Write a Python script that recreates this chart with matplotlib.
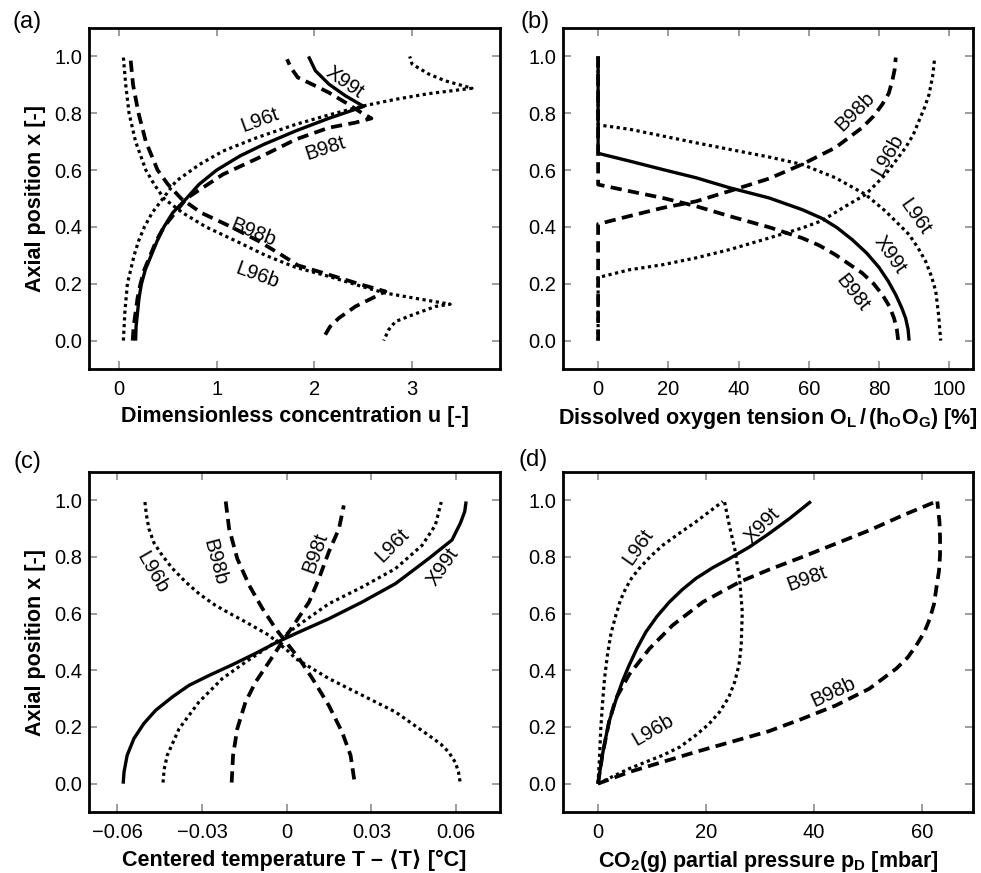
import matplotlib
matplotlib.use("Agg")
import matplotlib.pyplot as plt

plt.rcParams['font.family'] = ['Liberation Sans', 'DejaVu Sans']
plt.rcParams['mathtext.fontset'] = 'custom'
plt.rcParams['mathtext.rm'] = 'Liberation Sans:bold'
plt.rcParams['mathtext.it'] = 'Liberation Sans:bold'
plt.rcParams['mathtext.bf'] = 'Liberation Sans:bold'

# ---------------- Panel (a): dimensionless concentration ----------------
a_X99t_y = [0, 0.05, 0.1, 0.15, 0.2, 0.25, 0.3, 0.35, 0.4, 0.45, 0.5, 0.55, 0.6, 0.65, 0.69, 0.738, 0.782, 0.824, 0.861, 0.902, 0.95, 1.0]
a_X99t_u = [0.17, 0.175, 0.19, 0.205, 0.23, 0.27, 0.33, 0.39, 0.46, 0.55, 0.69, 0.82, 1.0, 1.24, 1.48, 1.81, 2.147, 2.505, 2.32, 2.15, 2.01, 1.94]
a_B98t_y = [0, 0.05, 0.1, 0.15, 0.2, 0.25, 0.3, 0.35, 0.4, 0.5, 0.585, 0.64, 0.708, 0.749, 0.767, 0.782, 0.80, 0.838, 0.873, 0.902, 0.926, 0.96, 0.99]
a_B98t_u = [0.14, 0.15, 0.17, 0.19, 0.22, 0.26, 0.32, 0.38, 0.46, 0.69, 1.065, 1.41, 1.81, 2.147, 2.42, 2.584, 2.49, 2.317, 2.147, 1.976, 1.83, 1.76, 1.72]
a_L96t_y = [0, 0.1, 0.2, 0.3, 0.35, 0.4, 0.45, 0.5, 0.561, 0.62, 0.667, 0.714, 0.761, 0.794, 0.826, 0.849, 0.869, 0.888, 0.914, 0.938, 0.973, 1.0]
a_L96t_u = [0.045, 0.06, 0.086, 0.155, 0.20, 0.26, 0.34, 0.45, 0.584, 0.825, 1.065, 1.41, 1.81, 2.147, 2.505, 2.83, 3.17, 3.614, 3.34, 3.17, 3.0, 2.976]
a_B98b_y = [0.985, 0.9, 0.8, 0.7, 0.6, 0.55, 0.5, 0.45, 0.4, 0.35, 0.3, 0.265, 0.232, 0.196, 0.173, 0.149, 0.12, 0.079, 0.049, 0.02, 0.0]
a_B98b_u = [0.12, 0.144, 0.2, 0.275, 0.395, 0.5, 0.636, 0.84, 1.15, 1.43, 1.67, 1.83, 2.147, 2.49, 2.727, 2.59, 2.42, 2.25, 2.16, 2.11, 2.096]
a_L96b_y = [0.996, 0.9, 0.8, 0.7, 0.6, 0.55, 0.5, 0.45, 0.4, 0.35, 0.3, 0.258, 0.226, 0.19, 0.167, 0.149, 0.128, 0.12, 0.09, 0.067, 0.038, 0.0]
a_L96b_u = [0.045, 0.069, 0.103, 0.17, 0.275, 0.36, 0.46, 0.65, 0.89, 1.20, 1.50, 1.805, 2.147, 2.49, 2.73, 3.03, 3.39, 3.24, 3.0, 2.83, 2.76, 2.71]

# ---------------- Panel (b): dissolved oxygen tension ----------------
b_X99t_y = [1.0, 0.659, 0.632, 0.602, 0.573, 0.538, 0.502, 0.461, 0.43, 0.398, 0.355, 0.308, 0.258, 0.208, 0.161, 0.115, 0.079, 0.04, 0.0]
b_X99t_o = [0, 0, 8.86, 18.4, 27.9, 37.4, 48.7, 58.1, 63.8, 68.0, 72.4, 76.5, 80.0, 82.7, 84.8, 86.5, 87.6, 88.3, 88.6]
b_B98t_y = [1.0, 0.549, 0.526, 0.502, 0.473, 0.438, 0.399, 0.361, 0.335, 0.302, 0.238, 0.2, 0.161, 0.12, 0.079, 0.04, 0.0]
b_B98t_o = [0, 0, 8.86, 18.4, 27.9, 37.4, 48.7, 58.1, 63.0, 67.6, 75.2, 78.5, 81.0, 83.0, 84.3, 85.1, 85.5]
b_B98b_y = [0.0, 0.41, 0.438, 0.467, 0.49, 0.526, 0.57, 0.62, 0.679, 0.749, 0.79, 0.832, 0.87, 0.914, 0.955, 0.996]
b_B98b_o = [0, 0, 8.86, 18.4, 27.9, 37.4, 48.7, 58.1, 67.6, 75.2, 78.5, 81.0, 82.8, 83.8, 84.5, 84.8]
b_L96b_y = [0.0, 0.222, 0.249, 0.267, 0.291, 0.32, 0.361, 0.396, 0.422, 0.473, 0.514, 0.585, 0.679, 0.725, 0.773, 0.82, 0.867, 0.93, 0.996]
b_L96b_o = [0, 0, 8.86, 18.4, 27.9, 37.4, 48.7, 58.1, 63.8, 70.5, 76.2, 81.9, 87.6, 89.8, 91.4, 93.0, 94.3, 95.3, 95.9]
b_L96t_y = [1.0, 0.759, 0.744, 0.72, 0.696, 0.673, 0.646, 0.62, 0.573, 0.514, 0.455, 0.373, 0.325, 0.279, 0.225, 0.173, 0.09, 0.0]
b_L96t_o = [0, 0, 8.86, 18.4, 27.9, 37.4, 48.7, 58.1, 67.6, 76.2, 81.9, 88.6, 91.2, 93.3, 95.0, 96.2, 97.0, 97.6]

# ---------------- Panel (c): centered temperature ----------------
c_X99t_y = [0.0, 0.041, 0.1, 0.159, 0.212, 0.259, 0.306, 0.347, 0.382, 0.42, 0.46, 0.497, 0.515, 0.53, 0.582, 0.641, 0.706, 0.794, 0.86, 0.92, 0.96, 0.996]
c_X99t_t = [-0.0579, -0.0576, -0.0565, -0.0541, -0.0506, -0.0464, -0.0405, -0.0346, -0.0275, -0.0192, -0.011, -0.0039, 0.0, 0.0032, 0.0149, 0.0267, 0.0385, 0.0502, 0.0585, 0.0615, 0.0630, 0.0635]
c_L96t_y = [0.004, 0.05, 0.1, 0.194, 0.288, 0.371, 0.429, 0.50, 0.553, 0.635, 0.694, 0.759, 0.841, 0.912, 0.994]
c_L96t_t = [-0.0438, -0.0434, -0.0423, -0.0381, -0.0311, -0.0228, -0.0146, -0.0039, 0.0032, 0.0149, 0.0267, 0.0385, 0.0479, 0.0526, 0.0547]
c_B98t_y = [0.004, 0.1, 0.194, 0.288, 0.359, 0.429, 0.5, 0.571, 0.641, 0.724, 0.818, 0.9, 0.982]
c_B98t_t = [-0.0195, -0.019, -0.0175, -0.0146, -0.011, -0.0063, -0.0016, 0.0032, 0.0079, 0.0114, 0.0149, 0.0185, 0.0202]
c_B98b_y = [0.996, 0.9, 0.794, 0.7, 0.618, 0.547, 0.49, 0.441, 0.371, 0.276, 0.182, 0.1, 0.0]
c_B98b_t = [-0.0216, -0.0204, -0.0175, -0.0133, -0.0086, -0.0039, 0.0005, 0.0044, 0.0091, 0.0149, 0.0196, 0.0226, 0.0241]
c_L96b_y = [0.994, 0.95, 0.9, 0.85, 0.806, 0.76, 0.712, 0.67, 0.629, 0.6, 0.571, 0.524, 0.465, 0.441, 0.371, 0.312, 0.253, 0.171, 0.14, 0.112, 0.075, 0.041, 0.004]
c_L96b_t = [-0.0502, -0.0497, -0.0488, -0.0470, -0.0441, -0.0405, -0.0358, -0.031, -0.0252, -0.020, -0.0146, -0.0063, 0.0008, 0.0032, 0.0149, 0.0267, 0.0385, 0.0502, 0.0545, 0.0573, 0.0597, 0.0608, 0.0614]

# ---------------- Panel (d): CO2 partial pressure ----------------
d_X99t_y = [0.0, 0.05, 0.1, 0.16, 0.218, 0.265, 0.312, 0.365, 0.418, 0.477, 0.535, 0.59, 0.641, 0.685, 0.724, 0.762, 0.794, 0.835, 0.882, 0.935, 0.996]
d_X99t_p = [0.0, 0.4, 0.8, 1.4, 2.04, 2.8, 3.6, 4.6, 5.76, 7.2, 8.85, 10.9, 13.2, 15.6, 18.1, 21.2, 24.3, 28.0, 31.6, 35.4, 39.4]
d_B98t_y = [0.0, 0.1, 0.218, 0.3, 0.385, 0.476, 0.559, 0.641, 0.712, 0.755, 0.80, 0.847, 0.894, 0.947, 0.996]
d_B98t_p = [0.0, 0.8, 2.04, 3.3, 5.76, 9.5, 13.8, 19.4, 26.2, 31.6, 37.8, 44.0, 50.2, 56.4, 62.6]
d_B98b_y = [0.0, 0.041, 0.112, 0.185, 0.229, 0.276, 0.335, 0.406, 0.445, 0.488, 0.535, 0.582, 0.635, 0.688, 0.75, 0.806, 0.87, 0.924, 0.996]
d_B98b_p = [0.0, 5.76, 18.1, 31.6, 37.8, 44.0, 50.2, 55.2, 57.3, 58.9, 60.4, 61.4, 62.2, 62.6, 63.1, 63.3, 63.3, 63.2, 62.8]
d_L96t_y = [0.0, 0.05, 0.1, 0.19, 0.276, 0.37, 0.453, 0.53, 0.594, 0.645, 0.688, 0.725, 0.759, 0.8, 0.841, 0.883, 0.924, 0.96, 0.996]
d_L96t_p = [0.0, 0.15, 0.3, 0.5, 0.8, 1.2, 1.73, 2.4, 3.3, 4.1, 5.1, 6.2, 7.6, 9.6, 11.95, 15.0, 18.1, 20.6, 23.1]
d_L96b_y = [0.0, 0.027, 0.053, 0.077, 0.1, 0.13, 0.171, 0.21, 0.253, 0.305, 0.359, 0.42, 0.488, 0.606, 0.724, 0.829, 0.912, 0.996]
d_L96b_p = [0.0, 2.9, 5.76, 8.9, 11.95, 15.2, 18.1, 20.5, 22.5, 24.2, 25.3, 26.1, 26.5, 26.7, 26.2, 25.3, 24.3, 23.4]

# ---------------- ticks / labels ----------------
y_ticks = [0.0, 0.2, 0.4, 0.6, 0.8, 1.0]
y_ticklabels = ['0.0', '0.2', '0.4', '0.6', '0.8', '1.0']
a_xticks = [0, 1, 2, 3]
b_xticks = [0, 20, 40, 60, 80, 100]
c_xticks = [-0.06, -0.03, 0, 0.03, 0.06]
c_xticklabels = ['\u22120.06', '\u22120.03', '0', '0.03', '0.06']
d_xticks = [0, 20, 40, 60]

SOLID = dict(color='black', lw=2.4, ls='-', solid_capstyle='butt')
DASH = dict(color='black', lw=2.7, ls=(0, (3.0, 1.7)), dash_capstyle='butt')
DOT = dict(color='black', lw=2.3, ls=(0, (1.0, 1.1)), dash_capstyle='butt')

fig = plt.figure(figsize=(9.81, 8.73), dpi=100)
W, H = 981.0, 873.0

def make_ax(x0, x1, y0, y1):
    return fig.add_axes([x0 / W, 1 - y1 / H, (x1 - x0) / W, (y1 - y0) / H])

axa = make_ax(89, 500, 28, 369)
axb = make_ax(563, 973, 28, 369)
axc = make_ax(89, 500, 472, 812)
axd = make_ax(563, 973, 472, 812)

for ax in (axa, axb, axc, axd):
    ax.set_ylim(-0.1, 1.1)
    ax.set_yticks(y_ticks)
    ax.set_yticklabels(y_ticklabels)
    ax.tick_params(direction='in', length=6, width=1.2, color='#8c8c8c',
                   top=True, right=True, labelsize=14.5)
    ax.tick_params(axis='x', pad=8)
    ax.tick_params(axis='y', pad=5)
    for s in ax.spines.values():
        s.set_linewidth(2.0)
        s.set_color('black')

LBL = dict(fontsize=15.5, fontweight='bold')
TXT = dict(fontsize=14.5, ha='center', va='center')

# (a)
axa.plot(a_L96t_u, a_L96t_y, **DOT)
axa.plot(a_L96b_u, a_L96b_y, **DOT)
axa.plot(a_B98t_u, a_B98t_y, **DASH)
axa.plot(a_B98b_u, a_B98b_y, **DASH)
axa.plot(a_X99t_u, a_X99t_y, **SOLID)
axa.set_xlim(-0.307, 3.90)
axa.set_xticks(a_xticks)
axa.set_ylabel('Axial position x [-]', labelpad=6, **LBL)
axa.set_xlabel('Dimensionless concentration u [-]', labelpad=5, **LBL)
axa.text(2.31, 0.908, 'X99t', rotation=-35, **TXT)
axa.text(1.44, 0.777, 'L96t', rotation=20, **TXT)
axa.text(2.11, 0.678, 'B98t', rotation=18, **TXT)
axa.text(1.37, 0.378, 'B98b', rotation=-22, **TXT)
axa.text(1.42, 0.23, 'L96b', rotation=-20, **TXT)

# (b)
axb.plot(b_L96t_o, b_L96t_y, **DOT)
axb.plot(b_L96b_o, b_L96b_y, **DOT)
axb.plot(b_B98t_o, b_B98t_y, **DASH)
axb.plot(b_B98b_o, b_B98b_y, **DASH)
axb.plot(b_X99t_o, b_X99t_y, **SOLID)
axb.set_xlim(-10, 106.8)
axb.set_xticks(b_xticks)
axb.set_xlabel(r'Dissolved oxygen tension $\mathregular{O_L\,/\,(h_OO_G)}$ [%]', labelpad=5, **LBL)
axb.text(73.2, 0.806, 'B98b', rotation=45, **TXT)
axb.text(82.6, 0.654, 'L96b', rotation=60, **TXT)
axb.text(90.3, 0.435, 'L96t', rotation=-55, **TXT)
axb.text(83.2, 0.30, 'X99t', rotation=-55, **TXT)
axb.text(72.6, 0.166, 'B98t', rotation=-52, **TXT)

# (c)
axc.plot(c_L96t_t, c_L96t_y, **DOT)
axc.plot(c_L96b_t, c_L96b_y, **DOT)
axc.plot(c_B98t_t, c_B98t_y, **DASH)
axc.plot(c_B98b_t, c_B98b_y, **DASH)
axc.plot(c_X99t_t, c_X99t_y, **SOLID)
axc.set_xlim(-0.070, 0.0755)
axc.set_xticks(c_xticks)
axc.set_xticklabels(c_xticklabels)
axc.set_ylabel('Axial position x [-]', labelpad=6, **LBL)
axc.set_xlabel('Centered temperature T \u2013 \u27e8T\u27e9 [\u00b0C]', labelpad=5, **LBL)
axc.text(-0.0477, 0.746, 'L96b', rotation=-60, **TXT)
axc.text(-0.0254, 0.782, 'B98b', rotation=-75, **TXT)
axc.text(0.010, 0.814, 'B98t', rotation=70, **TXT)
axc.text(0.0373, 0.842, 'L96t', rotation=45, **TXT)
axc.text(0.0553, 0.765, 'X99t', rotation=55, **TXT)

# (d)
axd.plot(d_L96t_p, d_L96t_y, **DOT)
axd.plot(d_L96b_p, d_L96b_y, **DOT)
axd.plot(d_B98t_p, d_B98t_y, **DASH)
axd.plot(d_B98b_p, d_B98b_y, **DASH)
axd.plot(d_X99t_p, d_X99t_y, **SOLID)
axd.set_xlim(-6.48, 69.4)
axd.set_xticks(d_xticks)
axd.set_xlabel(r'$\mathregular{CO_2}$(g) partial pressure $\mathregular{p_D}$ [mbar]', labelpad=5, **LBL)
axd.text(7.4, 0.835, 'L96t', rotation=55, **TXT)
axd.text(30.4, 0.913, 'X99t', rotation=45, **TXT)
axd.text(38.7, 0.725, 'B98t', rotation=20, **TXT)
axd.text(43.5, 0.323, 'B98b', rotation=25, **TXT)
axd.text(10.2, 0.188, 'L96b', rotation=30, **TXT)

# panel letters
for lab, (px, py) in [('(a)', (27, 22)), ('(b)', (535, 22)), ('(c)', (27, 462)), ('(d)', (533, 460))]:
    fig.text(px / W, 1 - py / H, lab, fontsize=17, ha='center', va='center')

fig.savefig('out.png', dpi=100)
